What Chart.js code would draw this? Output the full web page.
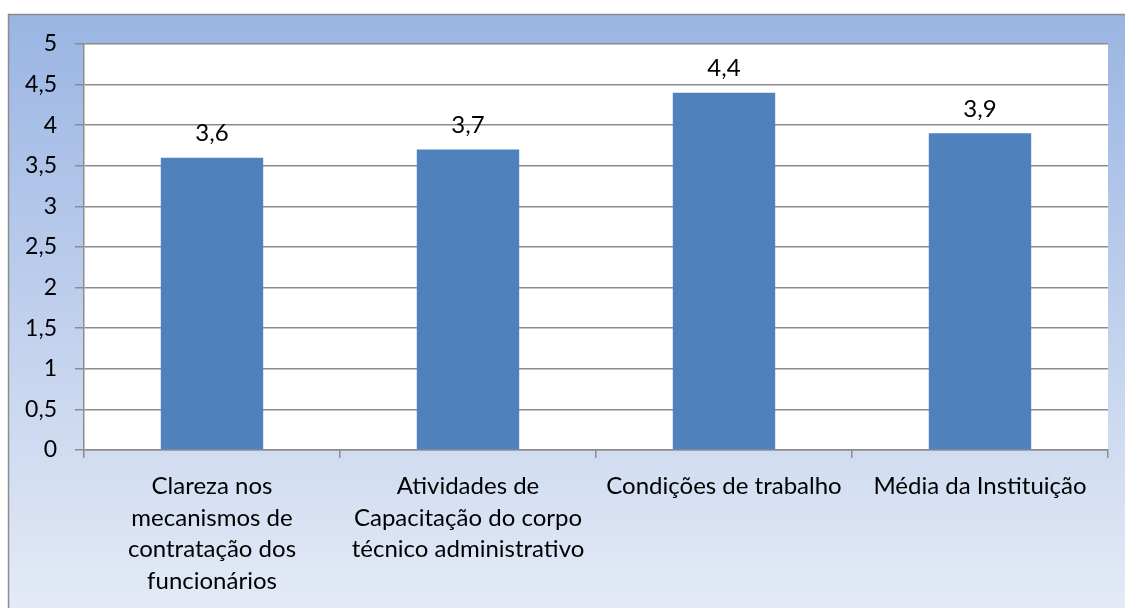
<!DOCTYPE html>
<html>
<head>
<meta charset="utf-8">
<script src="https://cdn.jsdelivr.net/npm/chart.js@4/dist/chart.umd.min.js"></script>
<style>
  html, body { margin: 0; padding: 0; background: #fff; }
  #wrap { width: 1125px; height: 608px; position: relative; }
</style>
</head>
<body>
<div id="wrap"><canvas id="canvas1"></canvas></div>
<script>
// categories and values
let categories = [
  ['Clareza nos', 'mecanismos de', 'contratação dos', 'funcionários'],
  ['Atividades de', 'Capacitação do corpo', 'técnico administrativo'],
  ['Condições de trabalho'],
  ['Média da Instituição']
];
let scores = [3.6, 3.7, 4.4, 3.9];
let yTicks = [0, 0.5, 1, 1.5, 2, 2.5, 3, 3.5, 4, 4.5, 5];

let fontName = 'Lato, "Liberation Sans", sans-serif';

// gradient frame behind everything + white plot area
let background = {
  id: 'background',
  beforeDraw(chart) {
    let ctx = chart.ctx;
    let a = chart.chartArea;
    ctx.save();
    let g = ctx.createLinearGradient(0, 14, 0, 608);
    g.addColorStop(0, '#9AB5E3');
    g.addColorStop(1, '#E4EAF6');
    ctx.fillStyle = g;
    ctx.fillRect(8, 14, chart.width - 8, chart.height - 14);
    ctx.strokeStyle = '#8C8C8C';
    ctx.lineWidth = 1.5;
    ctx.beginPath();
    ctx.moveTo(8.5, chart.height);
    ctx.lineTo(8.5, 14.5);
    ctx.lineTo(chart.width, 14.5);
    ctx.stroke();
    ctx.fillStyle = '#ffffff';
    ctx.fillRect(a.left, a.top, a.right - a.left, a.bottom - a.top);
    ctx.restore();
  }
};

// value labels above the bars, with decimal comma
let valueLabels = {
  id: 'valueLabels',
  afterDatasetsDraw(chart) {
    let ctx = chart.ctx;
    let meta = chart.getDatasetMeta(0);
    ctx.save();
    ctx.font = '24px ' + fontName;
    ctx.fillStyle = '#000';
    ctx.textAlign = 'center';
    ctx.textBaseline = 'middle';
    meta.data.forEach(function(bar, i) {
      ctx.fillText(String(scores[i]).replace('.', ','), bar.x, bar.y - 24);
    });
    ctx.restore();
  }
};

let myChart = document.getElementById('canvas1').getContext('2d');
let barChart = new Chart(myChart, {
  type: 'bar',
  data: {
    labels: categories,
    datasets: [{
      data: scores,
      backgroundColor: '#4F81BD',
      borderWidth: 0,
      categoryPercentage: 1,
      barPercentage: 0.4
    }]
  },
  options: {
    responsive: true,
    maintainAspectRatio: false,
    animation: false,
    layout: { padding: { left: 0, top: 44, right: 17, bottom: 0 } },
    plugins: {
      legend: { display: false },
      tooltip: { enabled: false }
    },
    scales: {
      x: {
        afterFit(scale) { scale.height = 158; },
        grid: {
          offset: true,
          drawOnChartArea: false,
          drawTicks: true,
          tickLength: 8,
          color: '#8C8C8C',
          lineWidth: 1.5
        },
        border: { color: '#8C8C8C', width: 1.5 },
        ticks: {
          color: '#000',
          font: { family: fontName, size: 24, lineHeight: 1.31 },
          padding: 13,
          maxRotation: 0,
          autoSkip: false
        }
      },
      y: {
        min: 0,
        max: 5,
        afterFit(scale) { scale.width = 84; },
        afterBuildTicks(scale) { scale.ticks = yTicks.map(function(v) { return { value: v }; }); },
        grid: {
          color: '#8C8C8C',
          lineWidth: 1.5,
          drawTicks: true,
          tickLength: 9
        },
        border: { color: '#8C8C8C', width: 1.5 },
        ticks: {
          color: '#000',
          font: { family: fontName, size: 23 },
          padding: 18,
          callback: function(v) { return String(v).replace('.', ','); }
        }
      }
    }
  },
  plugins: [background, valueLabels]
});
</script>
</body>
</html>
